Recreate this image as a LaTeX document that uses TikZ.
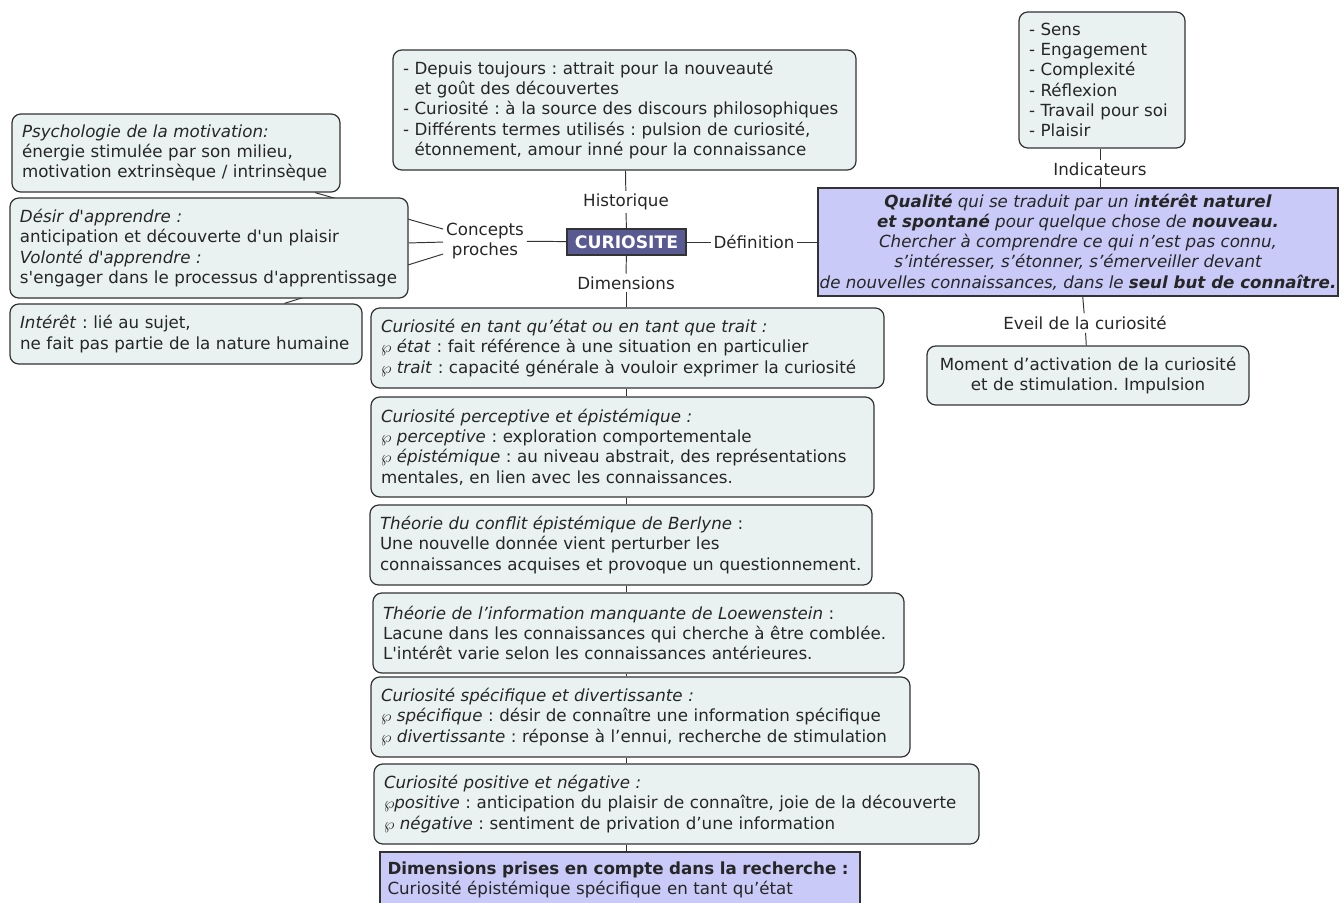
\documentclass[tikz,border=0pt]{standalone}
\usepackage{fontspec}
\newfontfamily\verd{DejaVu Sans}
\usepackage{xcolor}
\usepackage{tikz}
\usetikzlibrary{positioning, backgrounds}
\definecolor{boxfill}{HTML}{E9F1F1}
\definecolor{deffill}{HTML}{C9CAF7}
\definecolor{keyfill}{HTML}{5A5A93}
\definecolor{edgegray}{HTML}{333333}
\newcommand{\pbul}{$\wp$}

\begin{document}
\frenchspacing
\begin{tikzpicture}[
  txt/.style={font=\verd\fontsize{9.5}{11.5}\selectfont, text=black!85},
  box/.style={txt, draw=edgegray, fill=boxfill, rounded corners=5pt, line width=0.7pt, align=left, inner xsep=0.2cm, inner ysep=0pt},
  defbox/.style={txt, draw=edgegray, fill=deffill, line width=0.7pt, align=center, inner sep=0pt},
  defit/.style={defbox, font=\verd\fontsize{9.5}{11.5}\selectfont\itshape},
  keybox/.style={draw=edgegray, fill=keyfill, text=white, font=\verd\fontsize{9.8}{11}\selectfont\bfseries, minimum width=2.38cm, minimum height=0.52cm, inner sep=0pt, line width=0.8pt},
  lbl/.style={txt, align=center, inner sep=1.5pt},
  link/.style={draw=edgegray, line width=0.55pt},
]
  \useasboundingbox (0,0) rectangle (26.88,-18.04);
  \clip (0,0) rectangle (26.88,-18.04);

  % Centre
  \node[keybox] (curio) at (12.53,-4.84) {CURIOSITE};
  \node[lbl] (histlbl) at (12.52,-4.04) {Historique};
  \node[lbl] (dimlbl) at (12.52,-5.66) {Dimensions};
  \node[lbl] (deflbl) at (15.08,-4.84) {Définition};
  \node[lbl] (concepts) at (9.7,-4.82) {Concepts\\proches};

  % Historique
  \node[box, text width=8.86cm, minimum height=2.4cm] (histo) at (12.49,-2.2)
    {- Depuis toujours : attrait pour la nouveauté\\
     \hphantom{-} et goût des découvertes\\
     - Curiosité : à la source des discours philosophiques\\
     - Différents termes utilisés : pulsion de curiosité,\\
     \hphantom{-} étonnement, amour inné pour la connaissance};

  % Concepts proches
  \node[box, text width=6.16cm, minimum height=1.56cm] (psy) at (3.52,-3.06)
    {\textit{Psychologie de la motivation:}\\
     énergie stimulée par son milieu,\\
     motivation extrinsèque / intrinsèque};
  \node[box, text width=7.56cm, minimum height=2cm] (desir) at (4.18,-4.96)
    {\textit{Désir d'apprendre :}\\
     anticipation et découverte d'un plaisir\\
     \textit{Volonté d'apprendre :}\\
     s'engager dans le processus d'apprentissage};
  \node[box, text width=6.64cm, minimum height=1.2cm] (interet) at (3.72,-6.68)
    {\textit{Intérêt} : lié au sujet,\\
     ne fait pas partie de la nature humaine};

  % Definition
  \node[defit, minimum width=10.4cm, minimum height=2.16cm] (defi) at (21.56,-4.84)
    {\textbf{Qualité} qui se traduit par un i\textbf{ntérêt naturel}\\
     \textbf{et spontané} pour quelque chose de \textbf{nouveau.}\\
     Chercher à comprendre ce qui n’est pas connu,\\
     s’intéresser, s’étonner, s’émerveiller devant\\
     de nouvelles connaissances, dans le \textbf{seul but de connaître.}};
  \node[lbl] (indlbl) at (22.0,-3.38) {Indicateurs};
  \node[box, text width=2.92cm, minimum height=2.72cm] (indic) at (22.04,-1.6)
    {- Sens\\ - Engagement\\ - Complexité\\ - Réflexion\\ - Travail pour soi\\ - Plaisir};
  \node[lbl] (eveillbl) at (21.7,-6.46) {Eveil de la curiosité};
  \node[box, align=center, text width=6.04cm, minimum height=1.18cm] (moment) at (21.76,-7.51)
    {Moment d’activation de la curiosité\\ et de stimulation. Impulsion};

  % Dimensions
  \node[box, text width=9.86cm, minimum height=1.6cm] (dimA) at (12.55,-6.96)
    {\textit{Curiosité en tant qu’état ou en tant que trait :}\\
     \pbul\ \textit{état} : fait référence à une situation en particulier\\
     \pbul\ \textit{trait} : capacité générale à vouloir exprimer la curiosité};
  \node[box, text width=9.66cm, minimum height=2cm] (dimB) at (12.45,-8.94)
    {\textit{Curiosité perceptive et épistémique :}\\
     \pbul\ \textit{perceptive} : exploration comportementale\\
     \pbul\ \textit{épistémique} : au niveau abstrait, des représentations\\
     mentales, en lien avec les connaissances.};
  \node[box, text width=9.64cm, minimum height=1.6cm] (dimC) at (12.42,-10.9)
    {\textit{Théorie du conflit épistémique de Berlyne} :\\
     Une nouvelle donnée vient perturber les\\
     connaissances acquises et provoque un questionnement.};
  \node[box, text width=10.22cm, minimum height=1.6cm] (dimD) at (12.77,-12.66)
    {\textit{Théorie de l’information manquante de Loewenstein} :\\
     Lacune dans les connaissances qui cherche à être comblée.\\
     L'intérêt varie selon les connaissances antérieures.};
  \node[box, text width=10.38cm, minimum height=1.6cm] (dimE) at (12.81,-14.34)
    {\textit{Curiosité spécifique et divertissante :}\\
     \pbul\ \textit{spécifique} : désir de connaître une information spécifique\\
     \pbul\ \textit{divertissante} : réponse à l’ennui, recherche de stimulation};
  \node[box, text width=11.7cm, minimum height=1.6cm] (dimF) at (13.53,-16.08)
    {\textit{Curiosité positive et négative :}\\
     \pbul\textit{positive} : anticipation du plaisir de connaître, joie de la découverte\\
     \pbul\ \textit{négative} : sentiment de privation d’une information};
  \node[defbox, align=left, text width=9.3cm, inner xsep=0.15cm, minimum height=1.12cm] (dimG) at (12.4,-17.6)
    {\textbf{Dimensions prises en compte dans la recherche :}\\
     Curiosité épistémique spécifique en tant qu’état};

  % Links
  \draw[link] (histo) -- (histlbl) -- (curio);
  \draw[link] (curio) -- (deflbl) -- (defi);
  \draw[link] (curio) -- (concepts);
  \draw[link] (indic.south -| indlbl) -- (indlbl);
  \draw[link] (indlbl) -- (indlbl |- defi.north);
  \draw[link] (defi) -- (eveillbl) -- (moment);
  \draw[link] (curio) -- (dimlbl);
  \draw[link] (dimlbl) -- (dimlbl |- dimA.north);
  \draw[link] (dimA.south -| dimlbl) -- (dimB.north -| dimlbl);
  \draw[link] (dimB.south -| dimlbl) -- (dimC.north -| dimlbl);
  \draw[link] (dimC.south -| dimlbl) -- (dimD.north -| dimlbl);
  \draw[link] (dimD.south -| dimlbl) -- (dimE.north -| dimlbl);
  \draw[link] (dimE.south -| dimlbl) -- (dimF.north -| dimlbl);
  \draw[link] (dimF.south -| dimlbl) -- (dimG.north -| dimlbl);

  % Concepts behind the boxes
  \begin{scope}[on background layer]
    \draw[link] (concepts) -- (psy);
    \draw[link] (concepts) -- (desir);
    \draw[link] (concepts) -- (interet);
  \end{scope}

\end{tikzpicture}
\end{document}
